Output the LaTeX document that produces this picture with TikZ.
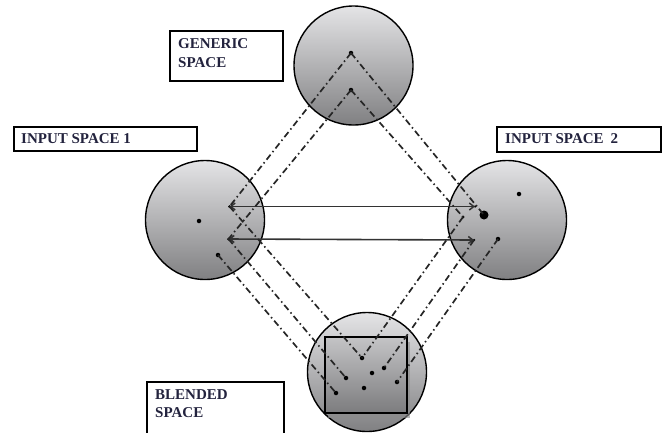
\documentclass[tikz,border=0pt]{standalone}
\usepackage{fontspec}
\setmainfont{Liberation Serif}
\usetikzlibrary{arrows.meta,shadows}
\definecolor{labelink}{RGB}{35,35,62}
\definecolor{shadetop}{RGB}{228,228,230}
\definecolor{shadebottom}{RGB}{128,128,130}
\definecolor{sqtop}{RGB}{196,196,198}
\definecolor{sqbottom}{RGB}{124,124,126}
\begin{document}
\begin{tikzpicture}[x=1pt,y=-1pt,
  space/.style={circle, draw=black, line width=1.4pt, minimum size=119pt,
    inner sep=0pt, top color=shadetop, bottom color=shadebottom},
  maplink/.style={line width=1.7pt, black!85,
    dash pattern=on 6.5pt off 3.2pt on 1.5pt off 3.2pt},
  crossarrow/.style={line width=1.6pt, black!80,
    {Straight Barb[length=4.5pt,width=7pt,line width=1.5pt]}-{Straight Barb[length=4.5pt,width=7pt,line width=1.5pt]}},
  pt/.style={circle, fill=black, inner sep=0pt, minimum size=4.5pt},
  bigpt/.style={circle, fill=black, inner sep=0pt, minimum size=9pt},
  labelbox/.style={draw=black, line width=1.5pt, fill=white},
  tag/.style={font=\bfseries\fontsize{15}{18.5}\selectfont, text=labelink,
    align=left, inner sep=0pt, anchor=west}
]
\useasboundingbox (0,0) rectangle (668,432);

% the four mental spaces
\node[space] (generic) at (353.5,65.5) {};
\node[space] (input1) at (205,220) {};
\node[space] (input2) at (507,220) {};
\node[space] (blended) at (367,372) {};

% framed area of the blend
\node[draw=black, line width=1.6pt, minimum width=82pt, minimum height=76pt,
  inner sep=0pt, top color=sqtop, bottom color=sqbottom,
  drop shadow={shadow xshift=3pt, shadow yshift=-5pt, fill=black!45, opacity=0.6}]
  (frame) at (366,375) {};

% elements in the generic space
\node[pt] (g1) at (351,53) {};
\node[pt] (g2) at (351,90) {};

% elements in input space 1
\node[pt, minimum size=3pt] (p1) at (229.5,206.5) {};
\node[pt, minimum size=3pt] (p2) at (228.5,239) {};
\node[pt] (a1) at (199,221) {};
\node[pt] (d1) at (218,255) {};

% elements in input space 2
\node[pt, minimum size=2.5pt] (q1) at (475,206.5) {};
\node[pt, minimum size=2.5pt] (q2) at (474,240) {};
\node[bigpt] (big) at (484,215) {};
\node[pt] (b1) at (519,194) {};
\node[pt, minimum size=3pt] (m) at (463,217) {};
\node[pt] (h) at (498,239) {};

% elements in the blended space
\node[pt] (bv) at (362,358) {};
\node[pt] (bl1) at (346,378) {};
\node[pt] (bl2) at (336,393) {};
\node[pt] (br1) at (384,368) {};
\node[pt] (br2) at (397,382) {};
\node[pt] (bc1) at (372,373) {};
\node[pt] (bc2) at (364,388) {};

% cross-space mapping
\draw[crossarrow] (p1.center) -- (q1.center);
\draw[crossarrow] (p2.center) -- (q2.center);

% projections from the generic space
\draw[maplink] (g1.center) -- (p1.center);
\draw[maplink] (g2.center) -- (p2.center);
\draw[maplink] (g1.center) -- (big.center);
\draw[maplink] (g2.center) -- (m.center);

% projections into the blend
\draw[maplink] (p1.center) -- (bv.center);
\draw[maplink] (p2.center) -- (bl1.center);
\draw[maplink] (d1.center) -- (bl2.center);
\draw[maplink] (m.center) -- (bv.center);
\draw[maplink] (q2.center) -- (br1.center);
\draw[maplink] (h.center) -- (br2.center);

% labels
\node[labelbox, anchor=north west, minimum width=113pt, minimum height=50pt, inner sep=0pt] (genbox) at (169,30) {};
\node[tag] (gentext) at (178,53) {GENERIC\\SPACE};

\node[labelbox, anchor=north west, minimum width=183pt, minimum height=24pt, inner sep=0pt] (in1box) at (13,126) {};
\node[tag] (in1text) at (21,138.5) {INPUT SPACE 1};

\node[labelbox, anchor=north west, minimum width=164pt, minimum height=25pt, inner sep=0pt] (in2box) at (496,126) {};
\node[tag] (in2text) at (505,138.5) {INPUT SPACE\hspace{7pt}2};

\node[labelbox, anchor=north west, minimum width=137pt, minimum height=60pt, inner sep=0pt] (blbox) at (146,381) {};
\node[tag] (bltext) at (155,403.5) {BLENDED\\SPACE};
\end{tikzpicture}
\end{document}
